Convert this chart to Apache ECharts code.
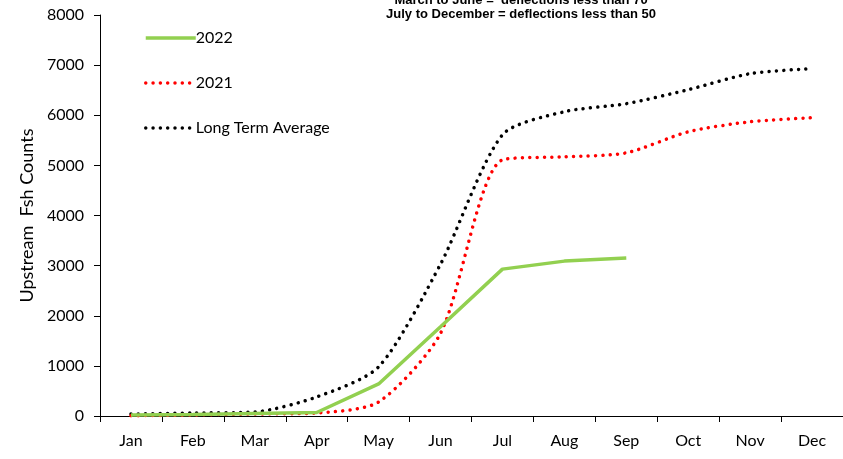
<!DOCTYPE html>
<html>
<head>
<meta charset="utf-8">
<script src="https://cdn.jsdelivr.net/npm/echarts@6/dist/echarts.min.js"></script>
<style>
  html, body { margin: 0; padding: 0; background: #fff; }
  #fishChart { width: 843px; height: 459px; }
</style>
</head>
<body>
<div id="fishChart"></div>
<script>
// month categories
const months = ['Jan', 'Feb', 'Mar', 'Apr', 'May', 'Jun', 'Jul', 'Aug', 'Sep', 'Oct', 'Nov', 'Dec'];

// cumulative upstream fish counts
const counts2022 = [20, 30, 50, 70, 640, 1780, 2930, 3090, 3150];
const counts2021 = [5, 20, 40, 60, 280, 1650, 5110, 5170, 5250, 5670, 5870, 5950];
const longTermAvg = [40, 60, 80, 380, 980, 3030, 5610, 6070, 6230, 6510, 6830, 6930];

const titleLines = [
    'March to June =  deflections less than 70',
    'July to December = deflections less than 50'
];

const fontFam = 'Lato, "Noto Sans", sans-serif';

let chart = echarts.init(document.getElementById('fishChart'));

const dotted = function (color) {
    return {
        color: color,
        width: 3.5,
        type: [0.01, 7.3],
        cap: 'round'
    };
};

const option = {
    animation: false,
    title: {
        text: titleLines.join('\n'),
        left: 516,
        top: -12,
        textAlign: 'center',
        textStyle: {
            fontFamily: 'Arial, "Liberation Sans", sans-serif',
            fontSize: 13,
            fontWeight: 'bold',
            color: '#000',
            lineHeight: 14
        }
    },
    legend: {
        orient: 'vertical',
        left: 139,
        top: 25,
        itemWidth: 50,
        itemHeight: 14,
        itemGap: 29,
        itemStyle: { opacity: 0 },
        lineStyle: { width: 3.5 },
        textStyle: {
            fontFamily: fontFam,
            fontSize: 16,
            color: '#000',
            padding: [0, 0, 0, -5]
        },
        data: ['2022', '2021', 'Long Term Average']
    },
    grid: {
        left: 100,
        right: 0,
        top: 15,
        bottom: 43
    },
    xAxis: {
        type: 'category',
        data: months,
        boundaryGap: true,
        axisLine: { lineStyle: { color: '#000', width: 1 } },
        axisTick: { show: true, length: 6, lineStyle: { color: '#000' } },
        axisLabel: {
            margin: 17,
            fontFamily: fontFam,
            fontSize: 16,
            color: '#000'
        }
    },
    yAxis: {
        type: 'value',
        min: 0,
        max: 8000,
        interval: 1000,
        name: 'Upstream  Fsh Counts',
        nameLocation: 'middle',
        nameGap: 63,
        nameTextStyle: {
            fontFamily: fontFam,
            fontSize: 18,
            color: '#000'
        },
        splitLine: { show: false },
        axisLine: { show: true, lineStyle: { color: '#000', width: 1 } },
        axisTick: { show: true, length: 6, lineStyle: { color: '#000' } },
        axisLabel: {
            margin: 16,
            fontFamily: fontFam,
            fontSize: 16,
            color: '#000',
            formatter: function (v) { return String(v); }
        }
    },
    series: [
        {
            name: '2022',
            type: 'line',
            data: counts2022,
            symbol: 'none',
            itemStyle: { color: '#92D050' },
            lineStyle: { color: '#92D050', width: 3.5 },
            z: 3
        },
        {
            name: '2021',
            type: 'line',
            data: counts2021,
            symbol: 'none',
            smooth: 0.25,
            itemStyle: { color: '#FF0000' },
            lineStyle: dotted('#FF0000'),
            z: 2
        },
        {
            name: 'Long Term Average',
            type: 'line',
            data: longTermAvg,
            symbol: 'none',
            smooth: 0.25,
            itemStyle: { color: '#000' },
            lineStyle: dotted('#000'),
            z: 1
        }
    ]
};

chart.setOption(option);

window.addEventListener('resize', function () {
    chart.resize();
});
</script>
</body>
</html>
